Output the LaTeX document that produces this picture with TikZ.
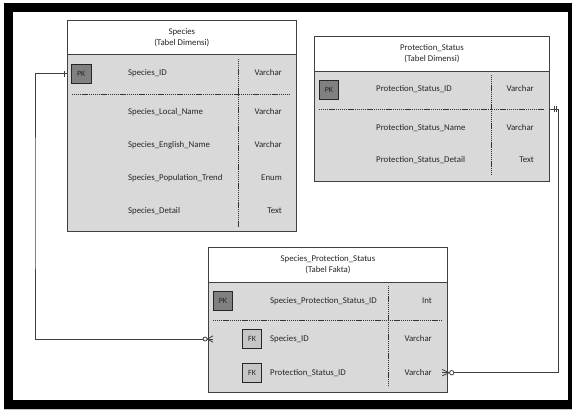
\documentclass[tikz,border=0pt]{standalone}
\usepackage{fontspec}
\setmainfont{Carlito}
\usetikzlibrary{calc}
\definecolor{tblline}{HTML}{404040}
\definecolor{bodygray}{HTML}{D9D9D9}
\definecolor{pkgray}{HTML}{808080}
\definecolor{fkgray}{HTML}{C6C6C6}
\definecolor{txt}{HTML}{262626}
\begin{document}
\begin{tikzpicture}[x=1pt,y=-1pt,
  tblhead/.style={draw=tblline, fill=white, line width=0.9pt, inner sep=0pt, anchor=north west},
  tblbody/.style={draw=tblline, fill=bodygray, line width=0.9pt, inner sep=0pt, anchor=north west},
  headtxt/.style={align=center, font=\fontsize{8.8}{11}\selectfont, text=txt, inner sep=0pt},
  fld/.style={font=\fontsize{8.8}{10}\selectfont, text=txt, inner sep=0pt, text height=6.5pt, text depth=1.8pt},
  keybox/.style={draw=black!85, line width=0.8pt, minimum width=19.4pt, minimum height=19pt, inner sep=0pt, font=\fontsize{8}{9}\selectfont, text=txt},
  pkbox/.style={keybox, fill=pkgray},
  fkbox/.style={keybox, fill=fkgray},
  divline/.style={draw=black!80, line width=0.7pt, dash pattern=on 1.2pt off 0.7pt},
  conn/.style={draw=tblline, line width=0.9pt},
  endmark/.style={draw=tblline, line width=0.8pt}
]
\useasboundingbox (0,0) rectangle (572,410);
% outer frame
\fill[gray!45] (4,407.5) rectangle (572,410);
\draw[line width=8.6pt] (8.6,7.2) rectangle (572.4,404.2);

% ---------------- Species ----------------
\node[tblbody, minimum width=229.3pt, minimum height=176.4pt] (spB) at (66.7,54.3) {};
\node[tblhead, minimum width=229.3pt, minimum height=34.3pt] (spH) at (66.7,20) {};
\node[headtxt] (spT) at (spH.center) {Species\\(Tabel Dimensi)};
\draw[divline] (238.7,59) -- (238.7,228);
\draw[divline] (72,94) -- (290,94);
\node[pkbox] (spPK) at (81.2,73.9) {PK};
\node[fld, anchor=west] (spF1) at (128,73.5) {Species\_ID};
\node[fld, anchor=west] (spF2) at (128,112) {Species\_Local\_Name};
\node[fld, anchor=west] (spF3) at (128,145.5) {Species\_English\_Name};
\node[fld, anchor=west] (spF4) at (128,178) {Species\_Population\_Trend};
\node[fld, anchor=west] (spF5) at (128,211.5) {Species\_Detail};
\node[fld, anchor=east] (spY1) at (282,73.5) {Varchar};
\node[fld, anchor=east] (spY2) at (282,112) {Varchar};
\node[fld, anchor=east] (spY3) at (282,145.5) {Varchar};
\node[fld, anchor=east] (spY4) at (282,178) {Enum};
\node[fld, anchor=east] (spY5) at (282,211.5) {Text};

% ---------------- Protection_Status ----------------
\node[tblbody, minimum width=234.4pt, minimum height=110pt] (psB) at (314.3,70.7) {};
\node[tblhead, minimum width=234.4pt, minimum height=35pt] (psH) at (314.3,35.7) {};
\node[headtxt] (psT) at (psH.center) {Protection\_Status\\(Tabel Dimensi)};
\draw[divline] (491.7,75) -- (491.7,175);
\coordinate (psSep) at (544,109.3);
\draw[divline] (319,109.3) -- (psSep);
\node[pkbox] (psPK) at (329,90) {PK};
\node[fld, anchor=west] (psF1) at (376,89.3) {Protection\_Status\_ID};
\node[fld, anchor=west] (psF2) at (376,127.7) {Protection\_Status\_Name};
\node[fld, anchor=west] (psF3) at (376,160.3) {Protection\_Status\_Detail};
\node[fld, anchor=east] (psY1) at (534,89.3) {Varchar};
\node[fld, anchor=east] (psY2) at (534,127.7) {Varchar};
\node[fld, anchor=east] (psY3) at (534,160.3) {Text};

% ---------------- Species_Protection_Status ----------------
\node[tblbody, minimum width=238.4pt, minimum height=109.4pt] (ftB) at (208.3,282.3) {};
\node[tblhead, minimum width=238.4pt, minimum height=35.6pt] (ftH) at (208.3,246.7) {};
\node[headtxt] (ftT) at (ftH.center) {Species\_Protection\_Status\\(Tabel Fakta)};
\draw[divline] (388.7,286) -- (388.7,386.7);
\draw[divline] (213,320.3) -- (441.7,320.3);
\node[pkbox] (ftPK) at (223,301.2) {PK};
\node[fkbox] (ftFK1) at (252,339.2) {FK};
\node[fkbox] (ftFK2) at (252,373) {FK};
\node[fld, anchor=west] (ftF1) at (270,301) {Species\_Protection\_Status\_ID};
\node[fld, anchor=west] (ftF2) at (270,339) {Species\_ID};
\node[fld, anchor=west] (ftF3) at (270,372.7) {Protection\_Status\_ID};
\node[fld, anchor=east] (ftY1) at (432,301) {Int};
\node[fld, anchor=east] (ftY2) at (432,339) {Varchar};
\node[fld, anchor=east] (ftY3) at (432,372.7) {Varchar};

% ---------------- Connectors ----------------
\coordinate (lbend) at (35,200);
\coordinate (lstart) at (spPK.west -| spB.west);
\coordinate (lend) at (ftF2.west -| ftB.west);
\draw[conn] (lstart) -| (lbend) |- (lend);
\draw[endmark] ($(lstart)+(-2.7,-3)$) -- ($(lstart)+(-2.7,3)$);
\draw[endmark] ($(lend)+(-1,0)$) -- ($(lend)+(4.8,-3.2)$);
\draw[endmark] ($(lend)+(-1,0)$) -- ($(lend)+(4.8,3.2)$);
\draw[endmark] ($(lend)+(-1,0)$) -- ($(lend)+(4.8,0)$);
\draw[endmark, fill=white] ($(lend)+(-3.2,0)$) circle (2pt);

\coordinate (rbend) at (558.3,250);
\coordinate (rstart) at (psSep -| psB.east);
\coordinate (rend) at (ftF3.east -| ftB.east);
\draw[conn] (rstart) -| (rbend) |- (rend);
\draw[endmark] ($(rstart)+(4.6,-3)$) -- ($(rstart)+(4.6,3)$);
\draw[endmark] ($(rstart)+(7,-3)$) -- ($(rstart)+(7,3)$);
\draw[endmark] ($(rend)+(1.5,0)$) -- ($(rend)+(-5.5,-3.2)$);
\draw[endmark] ($(rend)+(1.5,0)$) -- ($(rend)+(-5.5,3.2)$);
\draw[endmark] ($(rend)+(1.5,0)$) -- ($(rend)+(-5.5,0)$);
\draw[endmark, fill=white] ($(rend)+(4.1,0)$) circle (2.2pt);
\end{tikzpicture}
\end{document}
